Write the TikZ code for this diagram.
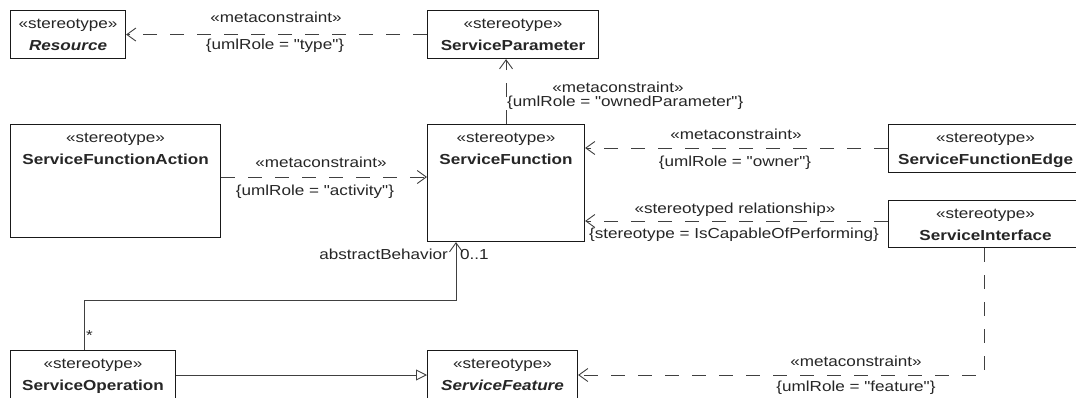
\documentclass[tikz,border=0pt]{standalone}
\usepackage{fontspec}
\setmainfont{Liberation Sans}[FakeStretch=1.18]
\font\plainq="Liberation Sans:extend=1.18" at 14.5pt
\usetikzlibrary{arrows.meta,calc}
\begin{document}
\begin{tikzpicture}[x=1pt,y=-1pt,
  every node/.style={font=\fontsize{14.5pt}{21pt}\selectfont},
  box/.style={draw=black!90, line width=1.1pt, fill=white, rectangle, inner sep=0pt, anchor=north west},
  lbl/.style={anchor=base, inner sep=0pt, text=black!85},
  cons/.style={lbl, font=\plainq},
  conn/.style={draw=black!75, line width=0.9pt},
  dsh/.style={conn, dash pattern=on 14pt off 13pt},
  dep/.style={dsh, -{Straight Barb[length=9pt,width=13pt,line width=0.9pt]}},
  assoc/.style={conn, -{Straight Barb[length=9pt,width=13pt,line width=0.9pt]}},
  gen/.style={conn, -{Triangle[open,length=11pt,width=11pt,line width=0.9pt,fill=white]}}]
\useasboundingbox (0,0) rectangle (1076,397);
\clip (0,0) rectangle (1076,397);
\fill[white] (0,0) rectangle (1076,397);
% boxes
\node[box, minimum width=115pt, minimum height=48pt] (res) at (10,10) {};
\node[box, minimum width=171pt, minimum height=48pt] (sp) at (427,10) {};
\node[box, minimum width=210pt, minimum height=113pt] (sfa) at (10,124) {};
\node[box, minimum width=157pt, minimum height=117pt] (sf) at (427,124) {};
\node[box, minimum width=194pt, minimum height=48pt] (sfe) at (888,124) {};
\node[box, minimum width=194pt, minimum height=47pt] (si) at (888,200) {};
\node[box, minimum width=165pt, minimum height=60pt] (so) at (10,350) {};
\node[box, minimum width=150pt, minimum height=60pt] (sfeat) at (427,350) {};
% box texts
\node[lbl] (resS) at ($(res.north)+(0,18)$) {«stereotype»};
\node[lbl] (resN) at ($(res.north)+(0,40)$) {\bfseries\itshape Resource};
\node[lbl] (spS) at ($(sp.north)+(0,18)$) {«stereotype»};
\node[lbl] (spN) at ($(sp.north)+(0,40)$) {\bfseries ServiceParameter};
\node[lbl] (sfaS) at ($(sfa.north)+(0,18)$) {«stereotype»};
\node[lbl] (sfaN) at ($(sfa.north)+(0,40)$) {\bfseries ServiceFunctionAction};
\node[lbl] (sfS) at ($(sf.north)+(0,18)$) {«stereotype»};
\node[lbl] (sfN) at ($(sf.north)+(0,40)$) {\bfseries ServiceFunction};
\node[lbl] (sfeS) at ($(sfe.north)+(0,18)$) {«stereotype»};
\node[lbl] (sfeN) at ($(sfe.north)+(0,40)$) {\bfseries ServiceFunctionEdge};
\node[lbl] (siS) at ($(si.north)+(0,18)$) {«stereotype»};
\node[lbl] (siN) at ($(si.north)+(0,40)$) {\bfseries ServiceInterface};
\node[lbl] (soS) at ($(so.north)+(0,18)$) {«stereotype»};
\node[lbl] (soN) at ($(so.north)+(0,40)$) {\bfseries ServiceOperation};
\node[lbl] (sfeatS) at ($(sfeat.north)+(0,18)$) {«stereotype»};
\node[lbl] (sfeatN) at ($(sfeat.north)+(0,40)$) {\bfseries\itshape ServiceFeature};
% connectors
\draw[dep] (sp.west) -- (res.east);
\draw[dep] (sf.north) -- (sf.north |- sp.south);
\draw[dep] ($(sfa.north east)+(0,53)$) -- ($(sf.north west)+(0,53)$);
\draw[dep] ($(sfe.north west)+(0,24)$) -- ($(sf.north east)+(0,24)$);
\draw[dep] ($(si.north west)+(0,21)$) -- ($(sf.north east)+(0,97)$);
\draw[dep] ($(si.south west)+(96,0)$) |- ($(sfeat.north east)+(0,25)$);
\draw[gen] ($(so.north east)+(0,25)$) -- ($(sfeat.north west)+(0,25)$);
\draw[assoc] ($(so.north west)+(74,0)$) -- ++(0,-50) -| ($(sf.south west)+(29,0)$);
% connector labels
\node[lbl] (l1a) at (276,22) {«metaconstraint»};
\node[cons] (l1b) at (275,49) {\{umlRole = "type"\}};
\node[lbl] (l2a) at (618,92) {«metaconstraint»};
\node[cons, anchor=base west] (l2b) at (507,106) {\{umlRole = "ownedParameter"\}};
\node[lbl] (l3a) at (321,167) {«metaconstraint»};
\node[cons] (l3b) at (315,195) {\{umlRole = "activity"\}};
\node[lbl] (l4a) at (736,139) {«metaconstraint»};
\node[cons] (l4b) at (735,166) {\{umlRole = "owner"\}};
\node[lbl] (l5a) at (735,213) {«stereotyped relationship»};
\node[cons] (l5b) at (734,238) {\{stereotype = IsCapableOfPerforming\}};
\node[lbl] (l6a) at (856,366) {«metaconstraint»};
\node[cons] (l6b) at (856,391) {\{umlRole = "feature"\}};
\node[lbl, anchor=base east] (l7a) at (448,259) {abstractBehavior};
\node[lbl, anchor=base west] (l7b) at (460,259) {0..1};
\node[lbl, anchor=base west] (l7c) at (86,340) {*};
\end{tikzpicture}
\end{document}
